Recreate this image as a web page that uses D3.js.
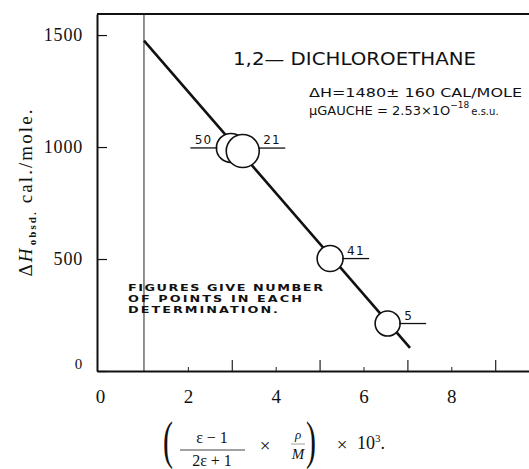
<!DOCTYPE html>
<html><head><meta charset="utf-8">
<script src="https://cdn.jsdelivr.net/npm/d3@7"></script>
<style>
html,body{margin:0;padding:0;background:#fff;}
svg{display:block;}
.serif{font-family:"Liberation Serif","DejaVu Serif",serif;fill:#111;}
.letter{font-family:"DejaVu Sans","Liberation Sans",sans-serif;fill:#111;}
</style></head><body>
<svg id="chart" width="529" height="469"></svg>
<script>
// Determinations: dielectric function (x 10^3) against observed heat difference
const xValues = [2.98, 3.25, 5.24, 6.55];
const hValues = [996, 982, 502, 212];
const pointCounts = [50, 21, 41, 5];

// Fitted straight line through the determinations
const fitX = [1, 7.06];
const fitH = [1475, 103];

// Axis ticks
const xTickLabels = [0, 2, 4, 6, 8];
const xMinorTicks = [2, 4, 6, 8];
const xMajorTicks = [3, 5, 7, 9];
const yTicks = [0, 500, 1000, 1500];

// Marker styling
const markerRadius = [14.5, 16.5, 13, 12.5];
const labelSide = ["left", "right", "right", "right"];

const svg = d3.select("#chart");
const x = d3.scaleLinear().domain([-0.07, 9.77]).range([97, 529]);
const y = d3.scaleLinear().domain([0, 1594]).range([371, 14]);

// top border of the frame
svg.append("line")
  .attr("x1", x.range()[0]).attr("x2", x.range()[1])
  .attr("y1", y.range()[1]).attr("y2", y.range()[1])
  .attr("stroke", "#111").attr("stroke-width", 2);

// thin vertical reference line at x = 1
svg.append("line")
  .attr("x1", x(1)).attr("x2", x(1))
  .attr("y1", y.range()[1]).attr("y2", y(0))
  .attr("stroke", "#222").attr("stroke-width", 1);

// x axis: labels, short ticks at even values, tall ticks at odd values
const gx = svg.append("g").attr("transform", `translate(0,${y(0)})`);
gx.call(d3.axisBottom(x).tickValues(xTickLabels).tickSize(0).tickPadding(19).tickFormat(d3.format("d")));
gx.select(".domain").attr("stroke", "#111").attr("stroke-width", 2.2);
gx.selectAll("text").attr("class", "serif").attr("font-size", 19).attr("fill", "#111");

const gxMinor = svg.append("g").attr("transform", `translate(0,${y(0)})`);
gxMinor.call(d3.axisBottom(x).tickValues(xMinorTicks).tickSizeInner(-4).tickSizeOuter(0).tickFormat(""));
gxMinor.select(".domain").remove();
gxMinor.selectAll("line").attr("stroke", "#222").attr("stroke-width", 1);

const gxMajor = svg.append("g").attr("transform", `translate(0,${y(0)})`);
gxMajor.call(d3.axisBottom(x).tickValues(xMajorTicks).tickSizeInner(-11).tickSizeOuter(0).tickFormat(""));
gxMajor.select(".domain").remove();
gxMajor.selectAll("line").attr("stroke", "#222").attr("stroke-width", 1.2);

// y axis with inward ticks
const gy = svg.append("g").attr("transform", `translate(${x.range()[0]},0)`);
gy.call(d3.axisLeft(y).tickValues(yTicks).tickSizeInner(-10).tickSizeOuter(0).tickPadding(14).tickFormat(d3.format("d")));
gy.select(".domain").attr("stroke", "#111").attr("stroke-width", 2);
gy.selectAll("line").attr("stroke", "#111").attr("stroke-width", 1.2);
gy.selectAll("text").attr("class", "serif").attr("font-size", 18).attr("letter-spacing", 0.8).attr("fill", "#111");
gy.selectAll(".tick").filter(d => d === 0).select("text").attr("dy", "-0.15em").attr("font-size", 15);

// fitted line
svg.append("path")
  .datum(fitX.map((v, i) => [v, fitH[i]]))
  .attr("d", d3.line().x(d => x(d[0])).y(d => y(d[1])))
  .attr("stroke", "#111").attr("stroke-width", 2.6).attr("fill", "none");

// determinations
const pts = xValues.map((v, i) => ({ x: v, h: hValues[i], n: pointCounts[i], r: markerRadius[i], side: labelSide[i] }));
svg.append("g").selectAll("circle").data(pts).join("circle")
  .attr("cx", d => x(d.x)).attr("cy", d => y(d.h)).attr("r", d => d.r)
  .attr("fill", "#fff").attr("stroke", "#111").attr("stroke-width", 1.6);

// leaders and counts
const lead = svg.append("g");
pts.forEach((d, i) => {
  const cx = x(d.x), cy = y(d.h) - (i === 1 ? 3 : 0);
  const dir = d.side === "left" ? -1 : 1;
  const edge = cx + dir * d.r;
  lead.append("line")
    .attr("x1", edge - dir * 1).attr("x2", edge + dir * 26)
    .attr("y1", cy).attr("y2", cy)
    .attr("stroke", "#111").attr("stroke-width", 1.3);
  lead.append("text").attr("class", "letter")
    .attr("x", edge + dir * 4).attr("y", cy - 4)
    .attr("text-anchor", dir < 0 ? "end" : "start")
    .attr("font-size", 12).attr("letter-spacing", 1.2)
    .text(d.n);
});

// title and fit results
svg.append("text").attr("class", "letter")
  .attr("x", 233).attr("y", 65).attr("font-size", 18.5)
  .attr("textLength", 243).attr("lengthAdjust", "spacingAndGlyphs")
  .text("1,2\u2014 DICHLOROETHANE");

svg.append("text").attr("class", "letter")
  .attr("x", 309).attr("y", 97).attr("font-size", 13)
  .attr("textLength", 213).attr("lengthAdjust", "spacingAndGlyphs")
  .text("\u0394H=1480\u00b1 160 CAL/MOLE");

const mu = svg.append("text").attr("class", "letter")
  .attr("x", 309).attr("y", 115).attr("font-size", 13);
mu.append("tspan").text("\u03bcGAUCHE = 2.53\u00d71O");
mu.append("tspan").attr("font-size", 9).attr("dy", -7).attr("dx", 0).text("\u221218");
mu.append("tspan").attr("font-size", 10).attr("dy", 7).attr("dx", 2).text("e.s.u.");

// note, lettered with widened glyphs
const note = ["FIGURES GIVE NUMBER", "OF POINTS IN EACH", "DETERMINATION."];
const noteLen = [195, 174, 150];
const widen = 1.35;
note.forEach((t, i) => {
  svg.append("text").attr("class", "letter")
    .attr("transform", `translate(128,${290.5 + i * 11}) scale(${widen},1)`)
    .attr("font-size", 9.5).attr("font-weight", "bold")
    .attr("textLength", noteLen[i] / widen).attr("lengthAdjust", "spacing")
    .text(t);
});

// y axis title
const yt = svg.append("text").attr("class", "serif")
  .attr("transform", "translate(32,193) rotate(-90)")
  .attr("text-anchor", "middle").attr("font-size", 19)
  .attr("textLength", 167).attr("lengthAdjust", "spacing");
yt.append("tspan").text("\u0394");
yt.append("tspan").attr("font-style", "italic").text("H");
yt.append("tspan").attr("font-size", 11).attr("font-weight", "bold").attr("dy", 4).attr("dx", 1).text("obsd.");
yt.append("tspan").attr("dy", -4).text(" cal./mole.");

// x axis title: ((e-1)/(2e+1) x rho/M) x 10^3
const xt = svg.append("g").attr("class", "serif");
xt.append("text").attr("transform", "translate(163,458) scale(1,1.75)").attr("font-size", 30).text("(");
xt.append("text").attr("x", 212).attr("y", 443).attr("font-size", 16).attr("text-anchor", "middle").text("\u03b5 \u2212 1");
xt.append("line").attr("x1", 180).attr("x2", 245).attr("y1", 450).attr("y2", 450).attr("stroke", "#444").attr("stroke-width", 1);
xt.append("text").attr("x", 212).attr("y", 466).attr("font-size", 16).attr("text-anchor", "middle").text("2\u03b5 + 1");
xt.append("text").attr("x", 265).attr("y", 452).attr("font-size", 19).attr("text-anchor", "middle").text("\u00d7");
xt.append("text").attr("x", 298).attr("y", 439).attr("font-size", 13).attr("font-style", "italic").attr("text-anchor", "middle").text("\u03c1");
xt.append("line").attr("x1", 291).attr("x2", 305).attr("y1", 444).attr("y2", 444).attr("stroke", "#888").attr("stroke-width", 0.8);
xt.append("text").attr("x", 298).attr("y", 459).attr("font-size", 15).attr("font-style", "italic").attr("text-anchor", "middle").text("M");
xt.append("text").attr("transform", "translate(306,458) scale(1,1.75)").attr("font-size", 30).text(")");
xt.append("text").attr("x", 342).attr("y", 451).attr("font-size", 19).attr("text-anchor", "middle").text("\u00d7");
const ten = xt.append("text").attr("x", 357).attr("y", 449).attr("font-size", 18);
ten.append("tspan").text("10");
ten.append("tspan").attr("font-size", 11).attr("dy", -7).text("3");
ten.append("tspan").attr("dy", 7).text(".");
</script>
</body></html>
